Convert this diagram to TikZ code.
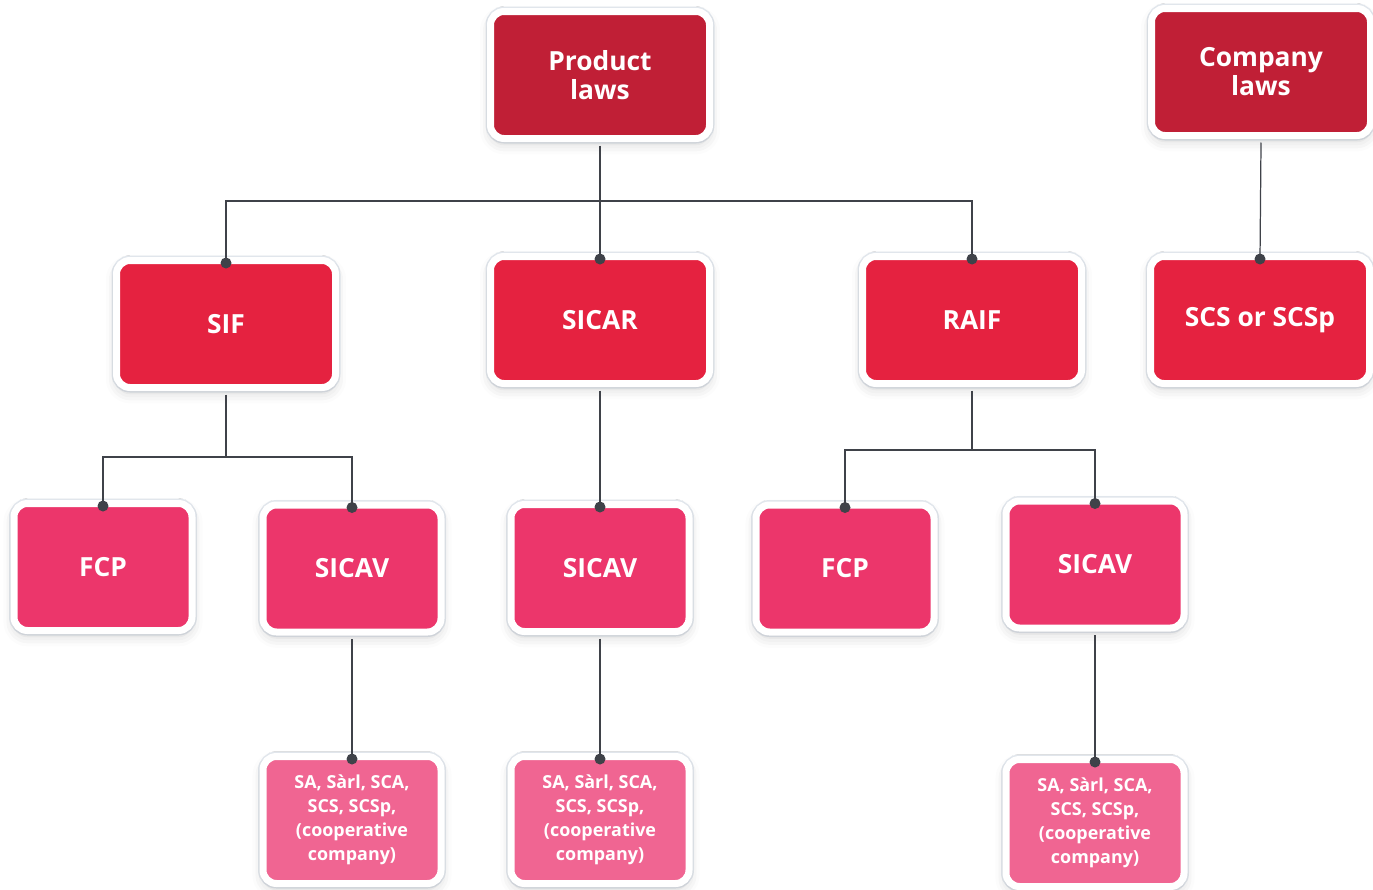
\documentclass[tikz,border=0pt]{standalone}
\usepackage{fontspec}
\setmainfont{Open Sans}
\usetikzlibrary{shadows.blur}

\definecolor{lawred}{HTML}{C01F36}
\definecolor{vehred}{HTML}{E52240}
\definecolor{formpink}{HTML}{EC366B}
\definecolor{legalpink}{HTML}{F06592}
\definecolor{framegray}{HTML}{E4E9EF}
\definecolor{wiregray}{HTML}{3F4249}

\tikzset{
  card/.style={rounded corners=0.27cm, draw=white, line width=0.14cm,
    preaction={draw=framegray, line width=0.2cm},
    blur shadow={shadow xshift=0pt, shadow yshift=-3pt, shadow blur radius=6pt, shadow opacity=18},
    text=white, align=center, font=\bfseries\fontsize{15}{16.5}\selectfont,
    inner sep=0pt, minimum height=2.54cm},
  bigcard/.style={card, minimum width=4.38cm},
  smallcard/.style={card, minimum width=3.56cm},
  leafcard/.style={smallcard, fill=legalpink, font=\bfseries\fontsize{10.2}{13.6}\selectfont},
  wire/.style={wiregray, line width=0.7pt},
  pin/.style={fill=wiregray}
}

\begin{document}
\begin{tikzpicture}
  \useasboundingbox (0,0) rectangle (27.46,-17.78);

  % Laws
  \node[bigcard, fill=lawred] (prod) at (12.00,-1.50) {Product\\laws};
  \node[bigcard, fill=lawred] (comp) at (25.22,-1.44) {Company\\laws};

  % Vehicles
  \node[bigcard, fill=vehred] (sif) at (4.52,-6.48) {SIF};
  \node[bigcard, fill=vehred] (sicar) at (12.00,-6.40) {SICAR};
  \node[bigcard, fill=vehred] (raif) at (19.44,-6.40) {RAIF};
  \node[bigcard, fill=vehred] (scs) at (25.20,-6.40) {SCS or SCSp};

  % Forms
  \node[smallcard, fill=formpink] (fcpa) at (2.06,-11.34) {FCP};
  \node[smallcard, fill=formpink] (sicava) at (7.04,-11.37) {SICAV};
  \node[smallcard, fill=formpink] (sicavb) at (12.00,-11.36) {SICAV};
  \node[smallcard, fill=formpink] (fcpb) at (16.90,-11.37) {FCP};
  \node[smallcard, fill=formpink] (sicavc) at (21.90,-11.29) {SICAV};

  % Legal forms
  \node[leafcard] (leafa) at (7.04,-16.40) {SA, Sàrl, SCA,\\SCS, SCSp,\\(cooperative\\company)};
  \node[leafcard] (leafb) at (12.00,-16.40) {SA, Sàrl, SCA,\\SCS, SCSp,\\(cooperative\\company)};
  \node[leafcard] (leafc) at (21.90,-16.46) {SA, Sàrl, SCA,\\SCS, SCSp,\\(cooperative\\company)};

  % Buses
  \coordinate (pbus) at (12.00,-4.02);
  \coordinate (sifbus) at (4.42,-9.14);
  \coordinate (raifbus) at (19.38,-9.00);

  % Connectors
  \draw[wire] ([yshift=-0.07cm]prod.south) -- (pbus);
  \draw[wire] ([yshift=-1.2mm]sif.north) |- (pbus) -| ([yshift=-1.2mm]raif.north);
  \draw[wire] (pbus) -- ([yshift=-1.2mm]sicar.north);
  \draw[wire] ([yshift=-0.07cm]comp.south) -- ([yshift=-1.2mm]scs.north);

  \draw[wire] ([yshift=-0.07cm]sif.south) -- (sif.south |- sifbus);
  \draw[wire] ([yshift=-1.2mm]fcpa.north) |- (sifbus) -| ([yshift=-1.2mm]sicava.north);
  \draw[wire] ([yshift=-0.07cm]sicar.south) -- ([yshift=-1.2mm]sicavb.north);
  \draw[wire] ([yshift=-0.07cm]raif.south) -- (raif.south |- raifbus);
  \draw[wire] ([yshift=-1.2mm]fcpb.north) |- (raifbus) -| ([yshift=-1.2mm]sicavc.north);

  \draw[wire] ([yshift=-0.07cm]sicava.south) -- ([yshift=-1.2mm]leafa.north);
  \draw[wire] ([yshift=-0.07cm]sicavb.south) -- ([yshift=-1.2mm]leafb.north);
  \draw[wire] ([yshift=-0.07cm]sicavc.south) -- ([yshift=-1.2mm]leafc.north);

  % Pins
  \foreach \n in {sif,sicar,raif,scs,fcpa,sicava,sicavb,fcpb,sicavc,leafa,leafb,leafc}
    \fill[pin] ([yshift=-1.2mm]\n.north) circle (0.11cm);
\end{tikzpicture}
\end{document}
